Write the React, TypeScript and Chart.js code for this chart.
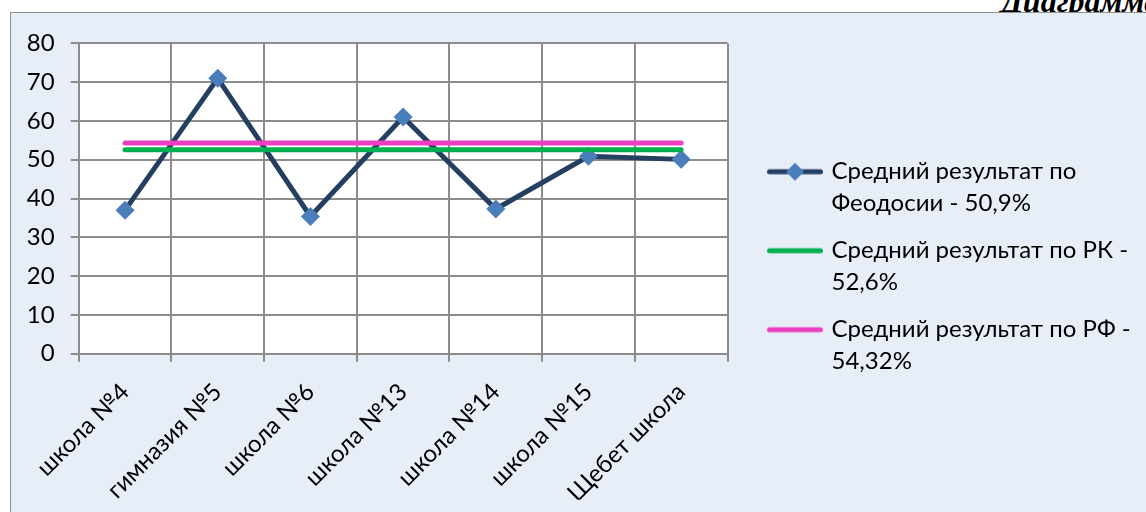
import React, { useEffect, useRef } from "react";
import { Chart, registerables } from "chart.js";

Chart.register(...registerables);

// ---- data ----
const categories = [
  "школа №4",
  "гимназия №5",
  "школа №6",
  "школа №13",
  "школа №14",
  "школа №15",
  "Щебет школа",
];
const feodosiaValues = [37, 71, 35.4, 61, 37.3, 50.9, 50.1];
const rkValues = [52.6, 52.6, 52.6, 52.6, 52.6, 52.6, 52.6];
const rfValues = [54.32, 54.32, 54.32, 54.32, 54.32, 54.32, 54.32];
const seriesNames = [
  "Средний результат по Феодосии - 50,9%",
  "Средний результат по РК - 52,6%",
  "Средний результат по РФ - 54,32%",
];
const legendLines = [
  ["Средний результат по", "Феодосии - 50,9%"],
  ["Средний результат по РК -", "52,6%"],
  ["Средний результат по РФ -", "54,32%"],
];
const yMin = 0;
const yMax = 80;
const yStep = 10;
const headerText = "Диаграмма";

// ---- styles ----
const NAVY = "#243F60";
const DIAMOND = "#4A7EBB";
const GREEN = "#00B050";
const PINK = "#EE3EC2";
const GRID = "#8C8C8C";
const FRAME_BG = "#E7EEF8";
const FONT = "Lato";
const FONT_SIZE = 24;

const CANVAS_W = 1135;
const CANVAS_H = 499;
const LEGEND_PAD = 15;
const LEGEND_LEFT = 744.5;
const CHART_RIGHT = 716.5;

function makeMarker(color: string, diamond: boolean): HTMLCanvasElement {
  const c = document.createElement("canvas");
  c.width = 56;
  c.height = 22;
  const ctx = c.getContext("2d")!;
  ctx.strokeStyle = color;
  ctx.lineWidth = 5;
  ctx.lineCap = "round";
  ctx.beginPath();
  ctx.moveTo(2.5, 11);
  ctx.lineTo(53.5, 11);
  ctx.stroke();
  if (diamond) {
    ctx.fillStyle = DIAMOND;
    ctx.beginPath();
    ctx.moveTo(28, 2);
    ctx.lineTo(37, 11);
    ctx.lineTo(28, 20);
    ctx.lineTo(19, 11);
    ctx.closePath();
    ctx.fill();
  }
  return c;
}

const plotBg = {
  id: "plotBg",
  beforeDraw(chart: any) {
    const { ctx, chartArea: a } = chart;
    ctx.save();
    ctx.fillStyle = "#ffffff";
    ctx.fillRect(a.left, a.top, a.right - a.left, a.bottom - a.top);
    ctx.restore();
  },
};

const legendWidth = {
  id: "legendWidth",
  beforeLayout(chart: any) {
    const lg = chart.legend;
    if (lg && !lg.__fixed) {
      const orig = lg.fit;
      lg.fit = function () {
        orig.call(this);
        this.width = CANVAS_W - LEGEND_LEFT;
      };
      lg.__fixed = true;
    }
  },
};

export default function App() {
  const ref = useRef<HTMLCanvasElement | null>(null);

  useEffect(() => {
    if (!ref.current) return;
    const markers = [
      makeMarker(NAVY, true),
      makeMarker(GREEN, false),
      makeMarker(PINK, false),
    ];
    const chart = new Chart(ref.current, {
      type: "line",
      data: {
        labels: categories,
        datasets: [
          {
            label: seriesNames[0],
            data: feodosiaValues,
            borderColor: NAVY,
            backgroundColor: DIAMOND,
            borderWidth: 5,
            pointStyle: "rectRot",
            pointRadius: 9.5,
            pointBackgroundColor: DIAMOND,
            pointBorderColor: DIAMOND,
            pointBorderWidth: 0,
            tension: 0,
            order: 3,
            yAxisID: "y",
          },
          {
            label: seriesNames[1],
            data: rkValues,
            borderColor: GREEN,
            backgroundColor: GREEN,
            borderWidth: 5,
            borderCapStyle: "round",
            pointRadius: 0,
            order: 2,
            yAxisID: "y",
          },
          {
            label: seriesNames[2],
            data: rfValues,
            borderColor: PINK,
            backgroundColor: PINK,
            borderWidth: 5,
            borderCapStyle: "round",
            pointRadius: 0,
            order: 1,
            yAxisID: "y",
          },
        ],
      },
      options: {
        animation: false,
        responsive: false,
        devicePixelRatio: 1,
        events: [],
        layout: { padding: { top: 28.7, bottom: 12.3, left: 0, right: 0 } },
        scales: {
          x: {
            type: "category",
            offset: true,
            grid: {
              offset: true,
              color: GRID,
              lineWidth: 2,
              tickLength: 8,
              tickColor: GRID,
            },
            border: { color: GRID, width: 2 },
            ticks: {
              autoSkip: false,
              minRotation: 45,
              maxRotation: 45,
              padding: 16,
              color: "#000",
              font: { family: FONT, size: FONT_SIZE },
            },
            afterFit: (s: any) => {
              s.height = 146;
            },
          },
          y: {
            type: "linear",
            position: "left",
            min: yMin,
            max: yMax,
            grid: { color: GRID, lineWidth: 2, tickLength: 8, tickColor: GRID },
            border: { color: GRID, width: 2 },
            ticks: {
              stepSize: yStep,
              padding: 16,
              color: "#000",
              font: { family: FONT, size: FONT_SIZE },
            },
            afterFit: (s: any) => {
              s.width = 67.7;
            },
          },
          spacer: {
            type: "linear",
            position: "right",
            display: true,
            grid: { display: false, drawTicks: false },
            border: { display: false },
            ticks: { display: false },
            afterFit: (s: any) => {
              s.width = LEGEND_LEFT - CHART_RIGHT;
            },
          },
        },
        plugins: {
          tooltip: { enabled: false },
          title: { display: false },
          legend: {
            display: true,
            position: "right",
            align: "center",
            labels: {
              usePointStyle: true,
              pointStyleWidth: 49,
              padding: LEGEND_PAD,
              color: "#000",
              font: { family: FONT, size: FONT_SIZE, lineHeight: 32 / FONT_SIZE },
              generateLabels: (c: any) =>
                c.data.datasets.map((ds: any, i: number) => ({
                  text: legendLines[i],
                  fillStyle: ds.borderColor,
                  strokeStyle: ds.borderColor,
                  lineWidth: 0,
                  pointStyle: markers[i],
                  hidden: false,
                  datasetIndex: i,
                  fontColor: "#000",
                })),
            },
          },
        },
      },
      plugins: [plotBg, legendWidth],
    });
    return () => chart.destroy();
  }, []);

  return (
    <div
      style={{
        position: "fixed",
        left: 0,
        top: 0,
        width: 1146,
        height: 512,
        overflow: "hidden",
        background: "#ffffff",
      }}
    >
      <div
        style={{
          position: "absolute",
          left: 1001,
          top: -14,
          fontFamily: "'Liberation Serif', serif",
          fontWeight: "bold",
          fontStyle: "italic",
          fontSize: 32,
          lineHeight: "30px",
          whiteSpace: "nowrap",
          color: "#000",
        }}
      >
        {headerText}
      </div>
      <div
        style={{
          position: "absolute",
          left: 10,
          top: 12,
          width: 1300,
          height: 600,
          borderLeft: "1px solid #8F8F8F",
          borderTop: "1px solid #8F8F8F",
          background: FRAME_BG,
        }}
      >
        <canvas
          ref={ref}
          width={CANVAS_W}
          height={CANVAS_H}
          style={{ position: "absolute", left: 0, top: 0, width: CANVAS_W, height: CANVAS_H }}
        />
      </div>
    </div>
  );
}
